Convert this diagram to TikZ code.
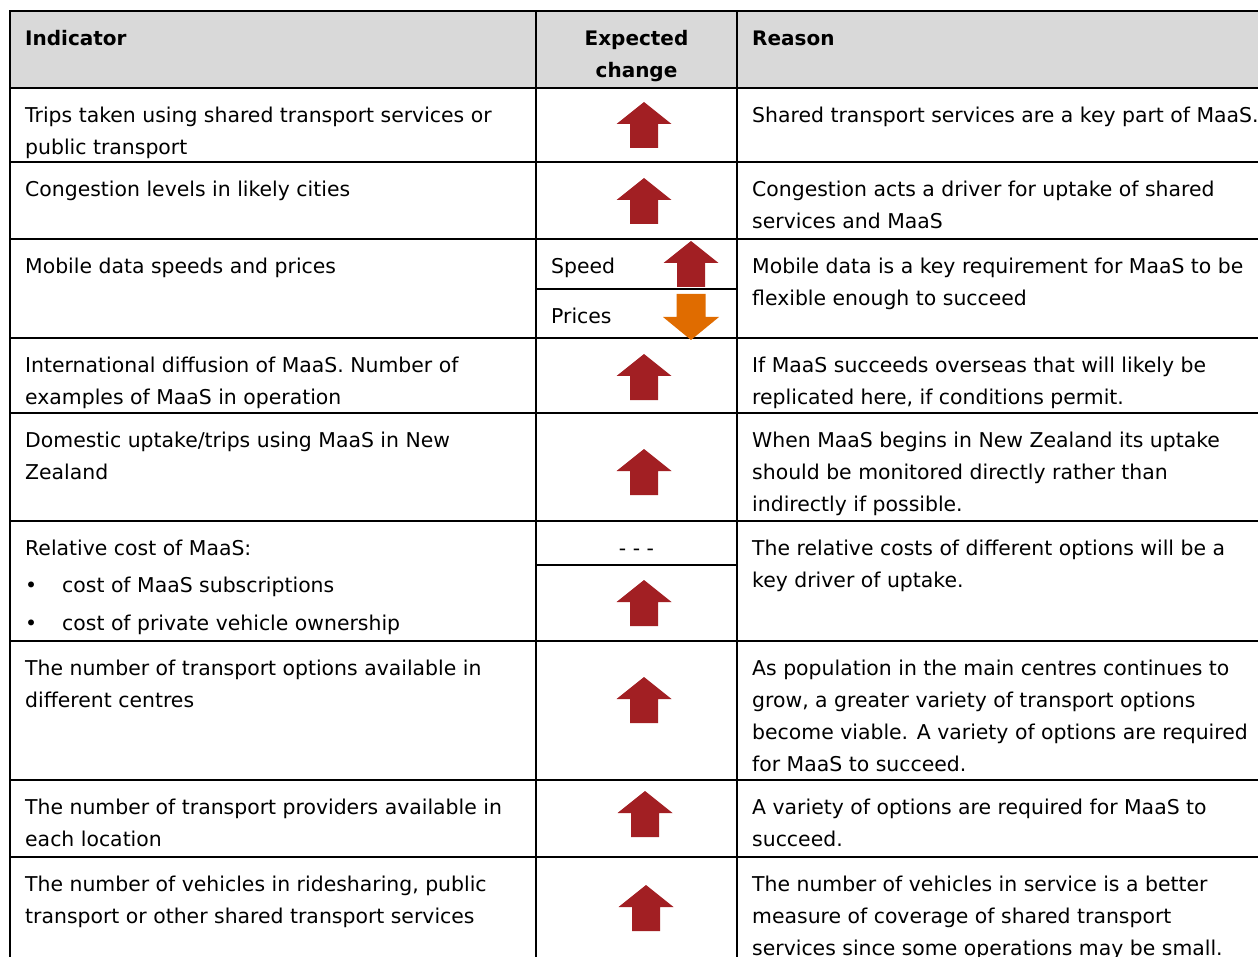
\documentclass[tikz,border=0pt]{standalone}
\usepackage{fontspec}
\setmainfont{DejaVu Sans}
\definecolor{hdrgray}{HTML}{D9D9D9}
\definecolor{upred}{HTML}{A21F23}
\definecolor{downorange}{HTML}{E06C00}
\tikzset{
  rule/.style={line width=1.5pt, line cap=rect},
  cell/.style={anchor=north west, inner sep=0pt, align=left, font=\fontsize{20.4}{32}\selectfont},
  hcell/.style={cell, font=\fontsize{20}{32}\selectfont\bfseries},
  uparr/.pic={\fill[upred] (0,0) -- (27.5,22) -- (14,22) -- (14,46) -- (-14,46) -- (-14,22) -- (-27.5,22) -- cycle;},
  downarr/.pic={\fill[downorange] (0,0) -- (28,-23) -- (14.5,-23) -- (14.5,-46) -- (-14.5,-46) -- (-14.5,-23) -- (-28,-23) -- cycle;}
}
\newcommand{\bulitem}{\makebox[12pt][c]{\textbullet}\hspace{25pt}}
\begin{document}
\begin{tikzpicture}[x=1pt,y=-1pt]
\useasboundingbox (0,0) rectangle (1258,957);
\clip (0,0) rectangle (1258,957);
% header
\fill[hdrgray] (10,11) rectangle (1270,88);
\node[hcell] (hind) at (25,22.6) {\strut Indicator};
\node[hcell, anchor=north, align=center] (hexp) at (636.5,22.6) {\strut Expected\\change};
\node[hcell] (hrea) at (752,22.6) {\strut Reason};
% grid
\foreach \y in {11,88,162,239,338,413,521,641,780,857}
  \draw[rule] (10,\y) -- (1270,\y);
\foreach \x in {10,536,737}
  \draw[rule] (\x,11) -- (\x,970);
\draw[rule] (536,289) -- (737,289);
\draw[rule] (536,565) -- (737,565);
% indicators
\node[cell] (ind1) at (25,99.6) {\strut Trips taken using shared transport services or\\public transport};
\node[cell] (ind2) at (25,173.6) {\strut Congestion levels in likely cities};
\node[cell] (ind3) at (25,250.6) {\strut Mobile data speeds and prices};
\node[cell] (ind4) at (25,349.6) {\strut International diffusion of MaaS. Number of\\examples of MaaS in operation};
\node[cell] (ind5) at (25,424.6) {\strut Domestic uptake/trips using MaaS in New\\Zealand};
\node[cell] (ind6) at (25,532.6) {\strut Relative cost of MaaS:\\[5.5pt]\bulitem cost of MaaS subscriptions\\[5.5pt]\bulitem cost of private vehicle ownership};
\node[cell] (ind7) at (25,652.6) {\strut The number of transport options available in\\different centres};
\node[cell] (ind8) at (25,791.6) {\strut The number of transport providers available in\\each location};
\node[cell] (ind9) at (25,868.6) {\strut The number of vehicles in ridesharing, public\\transport or other shared transport services};
% expected change
\node[cell] (speed) at (551,250.6) {\strut Speed};
\node[cell] (prices) at (551,300.6) {\strut Prices};
\node[cell, anchor=north, align=center] (nochg) at (636.5,532.6) {\strut - - -};
\pic at (644,102) {uparr};
\pic at (644,178) {uparr};
\pic at (691,241) {uparr};
\pic at (691,340) {downarr};
\pic at (644,354) {uparr};
\pic at (644,449) {uparr};
\pic at (644,580) {uparr};
\pic at (644,677) {uparr};
\pic at (645,791) {uparr};
\pic at (646,885) {uparr};
% reasons
\node[cell] (rea1) at (752,99.6) {\strut Shared transport services are a key part of MaaS.};
\node[cell] (rea2) at (752,173.6) {\strut Congestion acts a driver for uptake of shared\\services and MaaS};
\node[cell] (rea3) at (752,250.6) {\strut Mobile data is a key requirement for MaaS to be\\flexible enough to succeed};
\node[cell] (rea4) at (752,349.6) {\strut If MaaS succeeds overseas that will likely be\\replicated here, if conditions permit.};
\node[cell] (rea5) at (752,424.6) {\strut When MaaS begins in New Zealand its uptake\\should be monitored directly rather than\\indirectly if possible.};
\node[cell] (rea6) at (752,532.6) {\strut The relative costs of different options will be a\\key driver of uptake.};
\node[cell] (rea7) at (752,652.6) {\strut As population in the main centres continues to\\grow, a greater variety of transport options\\become viable. A variety of options are required\\for MaaS to succeed.};
\node[cell] (rea8) at (752,791.6) {\strut A variety of options are required for MaaS to\\succeed.};
\node[cell] (rea9) at (752,868.6) {\strut The number of vehicles in service is a better\\measure of coverage of shared transport\\services since some operations may be small.};
\end{tikzpicture}
\end{document}
